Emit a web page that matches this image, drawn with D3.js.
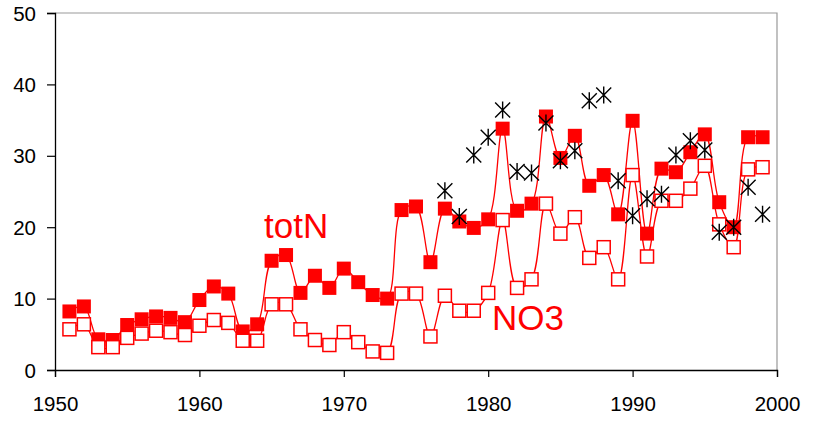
<!DOCTYPE html>
<html>
<head>
<meta charset="utf-8">
<script src="https://cdn.jsdelivr.net/npm/d3@7"></script>
<style>
  body { margin: 0; background: #fff; }
  svg { display: block; font-family: "Liberation Sans", Arial, sans-serif; }
</style>
</head>
<body>
<div id="container"></div>
<script>
// yearly values
const years = d3.range(1951, 2000);
const totN = [8.2, 8.9, 4.3, 4.2, 6.3, 7.1, 7.5, 7.3, 6.7, 9.8,
  11.7, 10.7, 5.4, 6.4, 15.3, 16.1, 10.8, 13.2, 11.5, 14.2,
  12.3, 10.5, 10.0, 22.4, 22.9, 15.1, 22.6, 20.8, 19.9, 21.1,
  33.8, 22.3, 23.3, 35.5, 29.7, 32.8, 25.8, 27.3, 21.8, 34.9,
  19.1, 28.2, 27.7, 30.5, 33.0, 23.5, 20.0, 32.6, 32.6];
const no3 = [5.7, 6.4, 3.2, 3.2, 4.5, 5.1, 5.5, 5.3, 4.9, 6.2,
  7.0, 6.6, 4.1, 4.1, 9.2, 9.2, 5.7, 4.2, 3.5, 5.3,
  3.9, 2.6, 2.4, 10.7, 10.7, 4.7, 10.4, 8.3, 8.3, 10.8,
  21.0, 11.5, 12.7, 23.3, 19.1, 21.4, 15.7, 17.2, 12.7, 27.3,
  15.9, 23.7, 23.7, 25.4, 28.6, 20.4, 17.2, 28.1, 28.4];
const starYears = d3.range(1977, 2000);
const starVals = [25.1, 21.5, 30.1, 32.6, 36.4, 27.8, 27.6, 34.6, 29.3, 30.7,
  37.7, 38.5, 26.5, 21.6, 24.0, 24.6, 30.1, 32.1, 30.8, 19.3,
  20.0, 25.6, 21.8];
const xTicks = [1950, 1960, 1970, 1980, 1990, 2000];
const yTicks = [0, 10, 20, 30, 40, 50];

const W = 815, H = 424;
const margin = {top: 13, right: 38, bottom: 54, left: 55};
const width = W - margin.left - margin.right;
const height = H - margin.top - margin.bottom;

const svg = d3.select("#container").append("svg")
  .attr("width", W)
  .attr("height", H);

const g = svg.append("g")
  .attr("transform", `translate(${margin.left},${margin.top})`);

const x = d3.scaleLinear().domain([1950, 2000]).range([0, width]);
const y = d3.scaleLinear().domain([0, 50]).range([height, 0]);

// frame (top/right in grey)
g.append("path")
  .attr("d", `M0,0H${width}V${height}`)
  .attr("fill", "none")
  .attr("stroke", "#999")
  .attr("stroke-width", 1.2);

const xAxis = g.append("g")
  .attr("transform", `translate(0,${height})`)
  .call(d3.axisBottom(x).tickValues(xTicks).tickFormat(d3.format("d")).tickSizeOuter(0).tickSize(7).tickPadding(19));
const yAxis = g.append("g")
  .call(d3.axisLeft(y).tickValues(yTicks).tickSizeOuter(0).tickSize(8).tickPadding(11));

[xAxis, yAxis].forEach(a => {
  a.select(".domain").attr("stroke", "#000").attr("stroke-width", 1.3);
  a.selectAll(".tick line").attr("stroke", "#000").attr("stroke-width", 1.2);
  a.selectAll("text").attr("fill", "#000").style("font-size", "20.5px")
    .style("font-family", "'Liberation Sans', Arial, sans-serif");
});
yAxis.selectAll("text").attr("dy", "0.35em");

const red = "#ff0000";
const line = d3.line()
  .x(d => x(d[0]))
  .y(d => y(d[1]))
  .curve(d3.curveCatmullRom.alpha(0.5));

const totData = years.map((yr, i) => [yr, totN[i]]);
const no3Data = years.map((yr, i) => [yr, no3[i]]);

g.append("path").datum(totData)
  .attr("d", line).attr("fill", "none").attr("stroke", red).attr("stroke-width", 1.3);
g.append("path").datum(no3Data)
  .attr("d", line).attr("fill", "none").attr("stroke", red).attr("stroke-width", 1.3);

const fs = 14;
g.selectAll(".tot").data(totData).join("rect")
  .attr("x", d => x(d[0]) - fs / 2)
  .attr("y", d => y(d[1]) - fs / 2)
  .attr("width", fs).attr("height", fs)
  .attr("fill", red);

const os = 13;
g.selectAll(".no3").data(no3Data).join("rect")
  .attr("x", d => x(d[0]) - os / 2)
  .attr("y", d => y(d[1]) - os / 2)
  .attr("width", os).attr("height", os)
  .attr("fill", "#fff")
  .attr("stroke", red)
  .attr("stroke-width", 1.5);

// asterisks
const r = 7.5;
const starData = starYears.map((yr, i) => [yr, starVals[i]]);
g.selectAll(".star").data(starData).join("path")
  .attr("transform", d => `translate(${x(d[0])},${y(d[1])})`)
  .attr("d", `M${-r},${-r}L${r},${r}M${-r},${r}L${r},${-r}M0,${-r - 1}V${r + 1}`)
  .attr("fill", "none")
  .attr("stroke", "#000")
  .attr("stroke-width", 1.4);

// series labels
g.append("text")
  .attr("x", 264 - margin.left).attr("y", 238 - margin.top)
  .attr("fill", red).style("font-size", "35px")
  .text("totN");
g.append("text")
  .attr("x", 492 - margin.left).attr("y", 330 - margin.top)
  .attr("fill", red).style("font-size", "35px")
  .text("NO3");
</script>
</body>
</html>
